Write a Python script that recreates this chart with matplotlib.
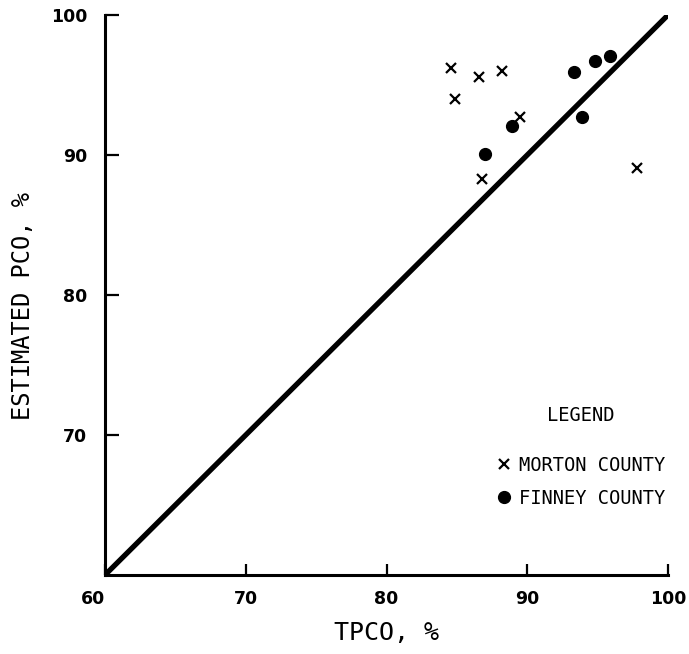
import matplotlib
matplotlib.use("Agg")
import matplotlib.pyplot as plt

# Data
morton_tpco = [84.6, 84.9, 86.6, 88.2, 89.5, 86.8, 97.8]
morton_pco = [96.2, 94.0, 95.6, 96.0, 92.7, 88.3, 89.1]
finney_tpco = [87.0, 88.9, 93.3, 94.8, 95.9, 93.9]
finney_pco = [90.1, 92.1, 95.9, 96.7, 97.1, 92.7]
ticks = [60, 70, 80, 90, 100]
line_ends = [60, 100]

label_font = "DejaVu Sans Mono"
tick_font = "DejaVu Sans"

fig = plt.figure(figsize=(6.89, 6.54), dpi=100)
ax = fig.add_axes([105 / 689, 79 / 654, 563 / 689, 560 / 654])

ax.plot(line_ends, line_ends, color="black", lw=3.8, solid_capstyle="round", zorder=2)
ax.plot(morton_tpco, morton_pco, linestyle="none", marker="x", ms=7.5, mew=1.6,
        color="black", label="MORTON COUNTY", zorder=3)
ax.plot(finney_tpco, finney_pco, linestyle="none", marker="o", ms=8.5,
        color="black", label="FINNEY COUNTY", zorder=3)

ax.set_xlim(60, 100)
ax.set_ylim(60, 100)
for s in ["top", "right"]:
    ax.spines[s].set_visible(False)
for s in ["left", "bottom"]:
    ax.spines[s].set_linewidth(2.2)

ax.set_xticks(ticks)
ax.set_yticks(ticks[1:])
ax.set_xticklabels([str(t) for t in ticks])
ax.set_yticklabels([str(t) for t in ticks[1:]])
ax.tick_params(axis="x", direction="in", length=8, width=1.6, pad=11, labelsize=12.5)
ax.tick_params(axis="y", direction="in", length=10, width=1.6, pad=13, labelsize=12.5)
for lab in ax.get_xticklabels() + ax.get_yticklabels():
    lab.set_fontfamily(tick_font)
    lab.set_fontweight("semibold")
ax.get_xticklabels()[0].set_horizontalalignment("right")

ax.set_xlabel("TPCO, %", fontfamily=label_font, fontsize=18)
ax.xaxis.set_label_coords(0.5, -0.083)
ax.set_ylabel("ESTIMATED PCO, %", fontfamily=label_font, fontsize=17)
ax.yaxis.set_label_coords(-0.125, 0.48)

leg = ax.legend(title="LEGEND", loc="center", bbox_to_anchor=(0.845, 0.211),
                frameon=False, handlelength=0.8, handletextpad=0.4,
                labelspacing=0.75, borderpad=0,
                prop={"family": label_font, "size": 13.5},
                title_fontproperties={"family": label_font, "size": 13.5})
leg._legend_box.sep = 22

fig.savefig("out.png", dpi=100)
